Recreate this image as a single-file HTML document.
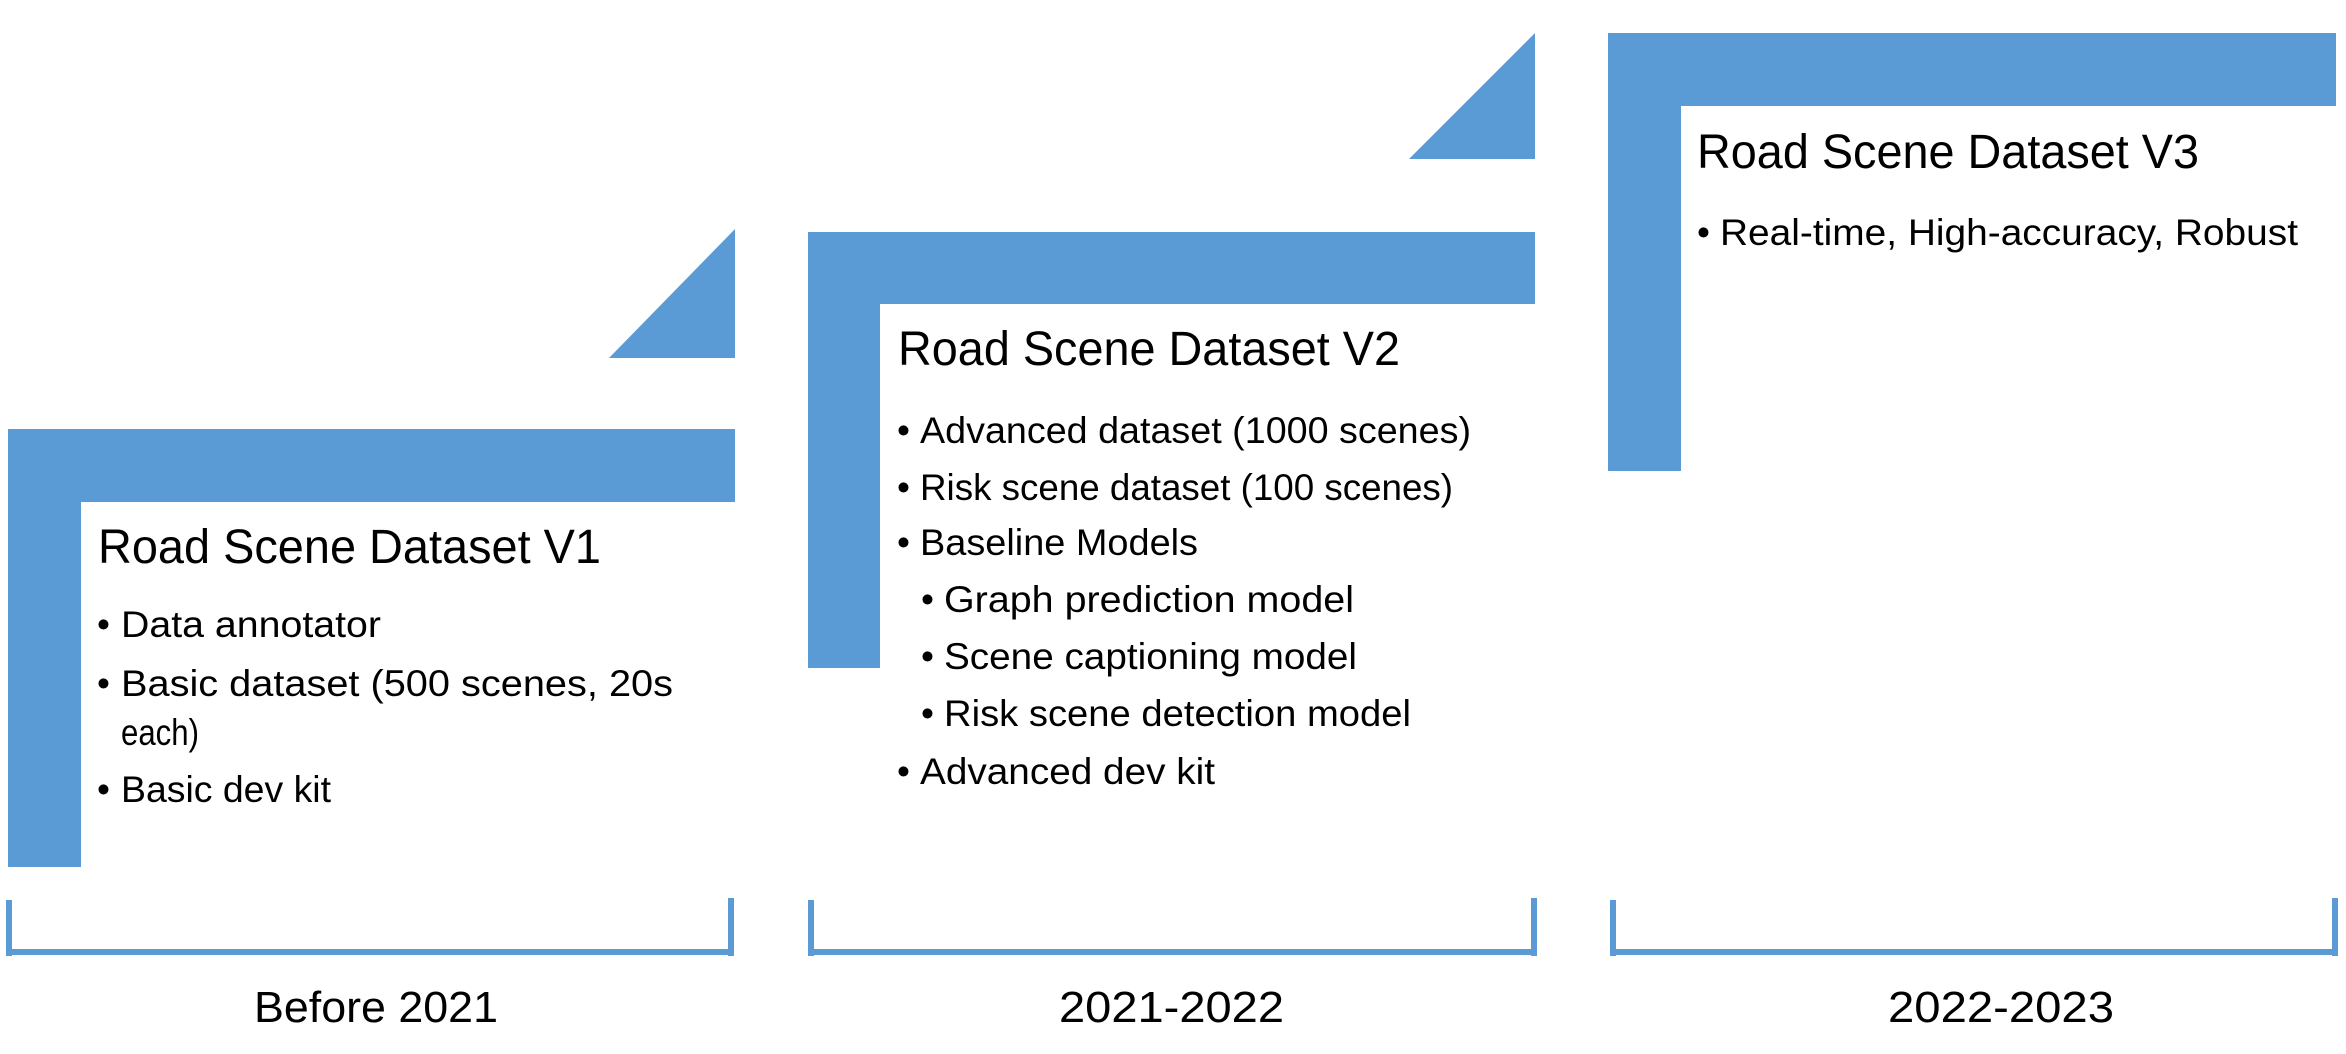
<!DOCTYPE html>
<html><head><meta charset="utf-8"><style>
html,body{margin:0;padding:0;background:#fff;}
svg{display:block;}
text{font-family:"Liberation Sans",sans-serif;fill:#000;}
</style></head><body>
<svg width="2346" height="1054" viewBox="0 0 2346 1054" xmlns="http://www.w3.org/2000/svg">
<g fill="#5B9BD5">
<!-- V1 -->
<rect x="8" y="429" width="727" height="73"/>
<rect x="8" y="429" width="73" height="438"/>
<polygon points="735,229 735,358 609,358"/>
<!-- V2 -->
<rect x="808" y="232" width="727" height="72"/>
<rect x="808" y="232" width="72" height="436"/>
<polygon points="1535,33 1535,159 1409,159"/>
<!-- V3 -->
<rect x="1608" y="33" width="728" height="73"/>
<rect x="1608" y="33" width="73" height="438"/>
<!-- brackets -->
<rect x="6" y="900" width="6" height="56"/><rect x="6" y="949" width="728" height="6"/><rect x="728" y="898" width="6" height="58"/>
<rect x="808" y="900" width="6" height="56"/><rect x="808" y="949" width="729" height="6"/><rect x="1531" y="898" width="6" height="58"/>
<rect x="1610" y="900" width="6" height="56"/><rect x="1610" y="949" width="728" height="6"/><rect x="2332" y="898" width="6" height="58"/>
</g>
<g font-size="48">
<text x="98" y="563" textLength="503" lengthAdjust="spacingAndGlyphs">Road Scene Dataset V1</text>
<text x="898" y="365" textLength="502" lengthAdjust="spacingAndGlyphs">Road Scene Dataset V2</text>
<text x="1697" y="168" textLength="502" lengthAdjust="spacingAndGlyphs">Road Scene Dataset V3</text>
</g>
<g font-size="37">
<text x="97" y="637">•</text><text x="121" y="637" textLength="260" lengthAdjust="spacingAndGlyphs">Data annotator</text>
<text x="97" y="696">•</text><text x="121" y="696" textLength="552" lengthAdjust="spacingAndGlyphs">Basic dataset (500 scenes, 20s</text>
<text x="121" y="745" textLength="78" lengthAdjust="spacingAndGlyphs">each)</text>
<text x="97" y="802">•</text><text x="121" y="802" textLength="210" lengthAdjust="spacingAndGlyphs">Basic dev kit</text>

<text x="897" y="443">•</text><text x="920" y="443" textLength="551" lengthAdjust="spacingAndGlyphs">Advanced dataset (1000 scenes)</text>
<text x="897" y="500">•</text><text x="920" y="500" textLength="533" lengthAdjust="spacingAndGlyphs">Risk scene dataset (100 scenes)</text>
<text x="897" y="555">•</text><text x="920" y="555" textLength="278" lengthAdjust="spacingAndGlyphs">Baseline Models</text>
<text x="921" y="612">•</text><text x="944" y="612" textLength="410" lengthAdjust="spacingAndGlyphs">Graph prediction model</text>
<text x="921" y="669">•</text><text x="944" y="669" textLength="413" lengthAdjust="spacingAndGlyphs">Scene captioning model</text>
<text x="921" y="726">•</text><text x="944" y="726" textLength="467" lengthAdjust="spacingAndGlyphs">Risk scene detection model</text>
<text x="897" y="784">•</text><text x="920" y="784" textLength="295" lengthAdjust="spacingAndGlyphs">Advanced dev kit</text>

<text x="1697" y="245">•</text><text x="1720" y="245" textLength="578" lengthAdjust="spacingAndGlyphs">Real-time, High-accuracy, Robust</text>
</g>
<g font-size="44">
<text x="254" y="1022" textLength="244" lengthAdjust="spacingAndGlyphs">Before 2021</text>
<text x="1059" y="1022" textLength="225" lengthAdjust="spacingAndGlyphs">2021-2022</text>
<text x="1888" y="1022" textLength="226" lengthAdjust="spacingAndGlyphs">2022-2023</text>
</g>
</svg>
</body></html>
